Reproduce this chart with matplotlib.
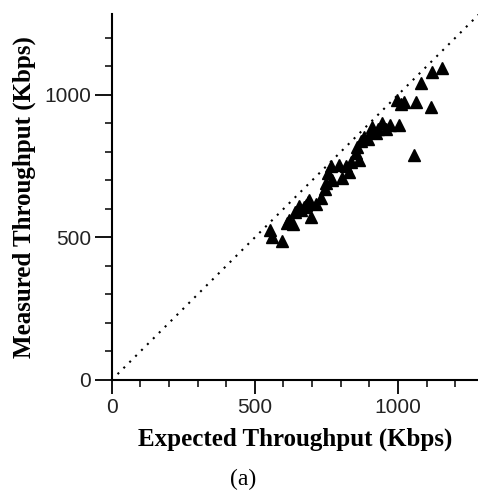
import numpy as np
import matplotlib.pyplot as plt
from matplotlib.ticker import MultipleLocator

# expected vs measured throughput (Kbps)
expected = [553, 559, 595, 611, 620, 632, 640, 655, 661, 672, 680, 684, 690, 696,
            712, 731, 745, 748, 754, 765, 770, 794, 805, 818, 829, 835, 852, 858,
            864, 870, 881, 895, 905, 911, 922, 930, 945, 960, 974, 1003, 998, 1010,
            1021, 1062, 1079, 1114, 1120, 1155, 1056]
measured = [526, 501, 489, 552, 560, 547, 590, 610, 596, 608, 615, 626, 630, 573,
            618, 637, 670, 690, 725, 749, 700, 754, 710, 749, 731, 765, 795, 819,
            772, 840, 854, 845, 870, 889, 865, 880, 901, 880, 895, 895, 982, 970,
            977, 977, 1041, 959, 1082, 1094, 789]
diag = [20, 1300]

fig = plt.figure(figsize=(4.78, 4.92), dpi=100)
ax = fig.add_axes([0.234, 0.228, 0.766, 0.744])

ax.plot(diag, diag, color='black', lw=1.5, linestyle=(0, (1, 3)))
ax.plot(expected, measured, linestyle='none', marker='^', ms=9, color='black')

ax.set_xlim(0, 1280)
ax.set_ylim(0, 1285)
ax.xaxis.set_major_locator(MultipleLocator(500))
ax.yaxis.set_major_locator(MultipleLocator(500))
ax.xaxis.set_minor_locator(MultipleLocator(100))
ax.yaxis.set_minor_locator(MultipleLocator(100))

for s in ['top', 'right']:
    ax.spines[s].set_visible(False)
for s in ['left', 'bottom']:
    ax.spines[s].set_linewidth(1.5)

ax.tick_params(which='major', length=10, width=1.3, pad=3, labelsize=15,
               labelcolor='#222222')
ax.tick_params(axis='y', which='major', length=12)
ax.tick_params(which='minor', length=5, width=1.1)
for lab in ax.get_xticklabels() + ax.get_yticklabels():
    lab.set_family('Liberation Sans')

ax.set_xlabel('Expected Throughput (Kbps)', family='Liberation Serif',
              fontweight='bold', fontsize=18, labelpad=8)
ax.set_ylabel('Measured Throughput (Kbps)', family='Liberation Serif',
              fontweight='bold', fontsize=18, labelpad=6)
fig.text(0.508, 0.005, '(a)', family='Liberation Serif', fontsize=17,
         ha='center', va='bottom')

fig.savefig('out.png', dpi=100)
